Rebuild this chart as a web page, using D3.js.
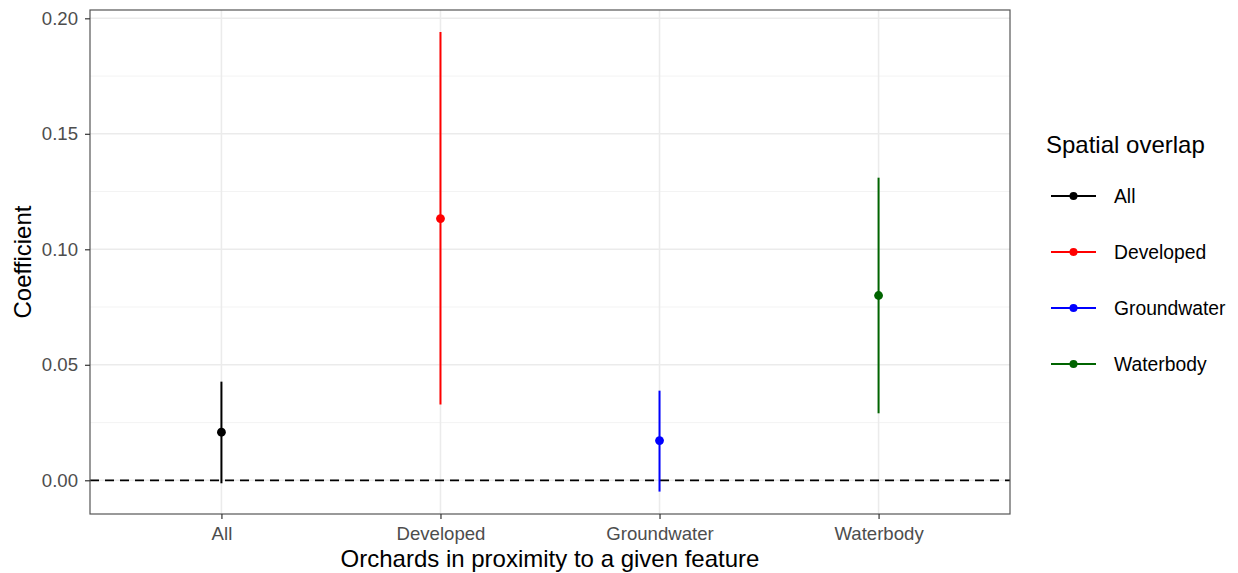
<!DOCTYPE html>
<html>
<head>
<meta charset="utf-8">
<script src="https://cdn.jsdelivr.net/npm/d3@7"></script>
<style>
  html, body { margin: 0; padding: 0; background: #fff; }
  svg { display: block; font-family: "Liberation Sans", Arial, sans-serif; }
</style>
</head>
<body>
<svg id="chart" width="1238" height="573"></svg>
<script>
// Coefficient estimates with confidence intervals, one per feature group
const categories = ["All", "Developed", "Groundwater", "Waterbody"];
const estimates  = [0.0208, 0.1133, 0.0172, 0.0800];
const lowerCI    = [-0.0013, 0.0328, -0.0049, 0.0290];
const upperCI    = [0.0427, 0.1941, 0.0388, 0.1310];
const colors     = ["#000000", "#FF0000", "#0000FF", "#006400"];
const yTicks     = [0, 0.05, 0.10, 0.15, 0.20];
const yMinor     = [0.025, 0.075, 0.125, 0.175];

const svg = d3.select("#chart");
const panel = { left: 90, right: 1010, top: 10, bottom: 514 };

const x = d3.scalePoint()
  .domain(categories)
  .range([panel.left, panel.right])
  .padding(0.6);

const y = d3.scaleLinear()
  .domain([-0.0146, 0.2036])
  .range([panel.bottom, panel.top]);

// panel background
svg.append("rect")
  .attr("x", panel.left).attr("y", panel.top)
  .attr("width", panel.right - panel.left)
  .attr("height", panel.bottom - panel.top)
  .attr("fill", "#fff");

const grid = svg.append("g");
grid.selectAll("line.minor").data(yMinor).join("line")
  .attr("x1", panel.left).attr("x2", panel.right)
  .attr("y1", d => y(d)).attr("y2", d => y(d))
  .attr("stroke", "#F2F2F2").attr("stroke-width", 0.9);
grid.selectAll("line.major").data(yTicks).join("line")
  .attr("x1", panel.left).attr("x2", panel.right)
  .attr("y1", d => y(d)).attr("y2", d => y(d))
  .attr("stroke", "#EBEBEB").attr("stroke-width", 1.6);
grid.selectAll("line.vmajor").data(categories).join("line")
  .attr("x1", d => x(d)).attr("x2", d => x(d))
  .attr("y1", panel.top).attr("y2", panel.bottom)
  .attr("stroke", "#EBEBEB").attr("stroke-width", 1.6);

// reference line at zero
svg.append("line")
  .attr("x1", panel.left).attr("x2", panel.right)
  .attr("y1", y(0)).attr("y2", y(0))
  .attr("stroke", "#000").attr("stroke-width", 1.8)
  .attr("stroke-dasharray", "9,6");

// interval bars and point estimates
const rows = categories.map((c, i) => ({ c, est: estimates[i], lo: lowerCI[i], hi: upperCI[i], col: colors[i] }));
const marks = svg.append("g");
marks.selectAll("line").data(rows).join("line")
  .attr("x1", d => x(d.c)).attr("x2", d => x(d.c))
  .attr("y1", d => y(d.lo)).attr("y2", d => y(d.hi))
  .attr("stroke", d => d.col).attr("stroke-width", 2);
marks.selectAll("circle").data(rows).join("circle")
  .attr("cx", d => x(d.c)).attr("cy", d => y(d.est))
  .attr("r", 4.4).attr("fill", d => d.col);

// panel border
svg.append("rect")
  .attr("x", panel.left).attr("y", panel.top)
  .attr("width", panel.right - panel.left)
  .attr("height", panel.bottom - panel.top)
  .attr("fill", "none").attr("stroke", "#555").attr("stroke-width", 1.2);

// axes
const yAxis = svg.append("g")
  .attr("transform", `translate(${panel.left},0)`)
  .call(d3.axisLeft(y).tickValues(yTicks).tickFormat(d3.format(".2f")).tickSize(5).tickPadding(7));
const xAxis = svg.append("g")
  .attr("transform", `translate(0,${panel.bottom})`)
  .call(d3.axisBottom(x).tickSize(5).tickPadding(8));
[yAxis, xAxis].forEach(a => {
  a.attr("font-size", null).attr("font-family", null);
  a.select(".domain").remove();
  a.selectAll(".tick line").attr("stroke", "#333").attr("stroke-width", 1.2);
  a.selectAll(".tick text").attr("fill", "#4D4D4D")
    .style("font-size", "18.6px")
    .style("font-family", "'Liberation Sans', Arial, sans-serif");
});

// axis titles
svg.append("text")
  .attr("x", (panel.left + panel.right) / 2).attr("y", 567)
  .attr("text-anchor", "middle").style("font-size", "24px").attr("fill", "#000")
  .text("Orchards in proximity to a given feature");
svg.append("text")
  .attr("transform", `translate(31,${(panel.top + panel.bottom) / 2}) rotate(-90)`)
  .attr("text-anchor", "middle").style("font-size", "24px").attr("fill", "#000")
  .text("Coefficient");

// legend
const legend = svg.append("g");
legend.append("text")
  .attr("x", 1046).attr("y", 153)
  .style("font-size", "24px").attr("fill", "#000")
  .text("Spatial overlap");
const keyY = d3.scalePoint().domain(categories).range([196, 364]);
const items = legend.selectAll("g.item").data(rows).join("g")
  .attr("transform", d => `translate(0,${keyY(d.c)})`);
items.append("line")
  .attr("x1", 1051).attr("x2", 1096)
  .attr("stroke", d => d.col).attr("stroke-width", 2);
items.append("circle")
  .attr("cx", 1073.5).attr("r", 4).attr("fill", d => d.col);
items.append("text")
  .attr("x", 1114).attr("dy", "0.35em")
  .style("font-size", "19.3px").attr("fill", "#000")
  .text(d => d.c);
</script>
</body>
</html>
